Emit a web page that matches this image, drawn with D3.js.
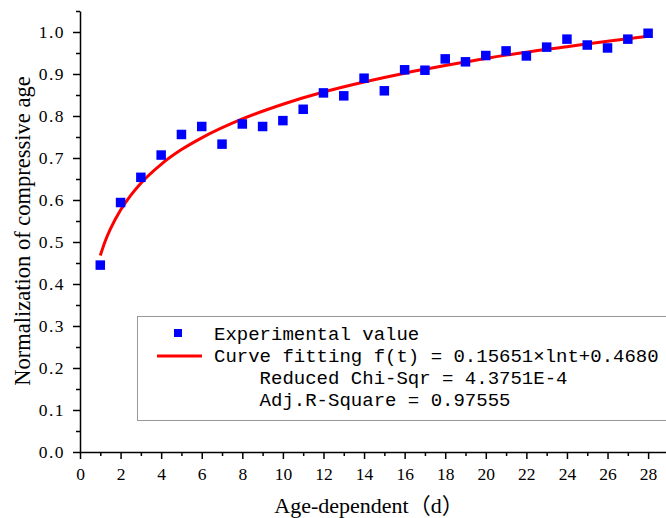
<!doctype html>
<html lang="en">
<head>
<meta charset="UTF-8">
<title>Compressive age fit</title>
<style type="text/css">
body {
  margin: 0;
  padding: 0;
  background: #fff;
}
</style>
<script type="text/javascript" src="https://cdn.jsdelivr.net/npm/d3@7/dist/d3.min.js"></script>
</head>
<body>
<div id="chart"></div>
<script type="text/javascript">

// measured points (age in days, normalized value)
var days = [1, 2, 3, 4, 5, 6, 7, 8, 9, 10, 11, 12, 13, 14, 15, 16, 17, 18, 19, 20, 21, 22, 23, 24, 25, 26, 27, 28];
var values = [0.445, 0.594, 0.654, 0.707, 0.756, 0.775, 0.733, 0.781, 0.775, 0.789, 0.816, 0.855, 0.848, 0.890,
              0.860, 0.910, 0.909, 0.936, 0.929, 0.944, 0.955, 0.943, 0.964, 0.983, 0.969, 0.962, 0.983, 0.997];

// fitted curve
var fitDays = [1, 1.25, 1.5, 2, 2.5, 3, 4, 5, 6, 8, 10, 12, 14, 16, 18, 20, 22, 24, 26, 28];
var fitValues = [0.468, 0.503, 0.531, 0.576, 0.611, 0.640, 0.685, 0.720, 0.748, 0.793, 0.828, 0.857, 0.881,
                 0.902, 0.920, 0.937, 0.952, 0.965, 0.978, 0.990];

var xTicks = [0, 2, 4, 6, 8, 10, 12, 14, 16, 18, 20, 22, 24, 26, 28];
var yTicks = [0, 0.1, 0.2, 0.3, 0.4, 0.5, 0.6, 0.7, 0.8, 0.9, 1.0];

var legendLines = [
  'Experimental value',
  'Curve fitting f(t) = 0.15651\u00d7lnt+0.4680',
  '    Reduced Chi-Sqr = 4.3751E-4',
  '    Adj.R-Square = 0.97555'
];

var W = 666, H = 518;
var serif = "'Liberation Serif', 'Times New Roman', 'Noto Sans CJK SC', serif";
var mono = "'Liberation Mono', 'Courier New', monospace";

var svg = d3.select('#chart').append('svg')
  .attr('width', W)
  .attr('height', H);

var x = d3.scaleLinear().domain([0, 29]).range([80, 668.4]);
var y = d3.scaleLinear().domain([0, 1.05]).range([452, 11]);

function range(a, b, step) {
  var out = [];
  for (var v = a; v <= b + 1e-9; v += step) out.push(+v.toFixed(3));
  return out;
}

// minor ticks first
svg.append('g')
  .attr('transform', 'translate(0,452)')
  .call(d3.axisBottom(x).tickValues(range(1, 29, 2)).tickSize(4).tickFormat(''))
  .call(function(g) { g.select('.domain').remove(); });

svg.append('g')
  .attr('transform', 'translate(80,0)')
  .call(d3.axisLeft(y).tickValues(range(0.05, 1.05, 0.1)).tickSize(4).tickFormat(''))
  .call(function(g) { g.select('.domain').remove(); });

var xAxis = svg.append('g')
  .attr('transform', 'translate(0,452)')
  .call(d3.axisBottom(x).tickValues(xTicks).tickSize(7).tickSizeOuter(0).tickPadding(9)
    .tickFormat(d3.format('d')));

var yAxis = svg.append('g')
  .attr('transform', 'translate(80,0)')
  .call(d3.axisLeft(y).tickValues(yTicks).tickSize(7).tickSizeOuter(0).tickPadding(8)
    .tickFormat(d3.format('.1f')));

[xAxis, yAxis].forEach(function(g) {
  g.selectAll('path, line').attr('stroke', '#000').attr('stroke-width', 1.5);
  g.selectAll('text').attr('fill', '#000')
    .style('font-family', serif)
    .style('font-size', '17.5px');
});
yAxis.selectAll('text').style('letter-spacing', '1.5px');
svg.selectAll('g line').attr('stroke', '#000').attr('stroke-width', 1.5);

// axis titles
svg.append('text')
  .attr('x', 369)
  .attr('y', 513)
  .attr('text-anchor', 'middle')
  .style('font-family', serif)
  .style('font-size', '22px')
  .text('Age-dependent\uff08d\uff09');

svg.append('text')
  .attr('transform', 'translate(30,231) rotate(-90)')
  .attr('text-anchor', 'middle')
  .style('font-family', serif)
  .style('font-size', '22.5px')
  .text('Normalization of compressive age');

// fitted curve
var line = d3.line()
  .x(function(d) { return x(d[0]); })
  .y(function(d) { return y(d[1]); })
  .curve(d3.curveMonotoneX);

svg.append('path')
  .datum(d3.zip(fitDays, fitValues))
  .attr('d', line)
  .attr('fill', 'none')
  .attr('stroke', '#ff0000')
  .attr('stroke-width', 3);

// points
var sq = 9.5;
svg.selectAll('rect.pt').data(d3.zip(days, values))
  .enter().append('rect')
  .attr('class', 'pt')
  .attr('x', function(d) { return x(d[0]) - sq / 2; })
  .attr('y', function(d) { return y(d[1]) - sq / 2; })
  .attr('width', sq)
  .attr('height', sq)
  .attr('fill', '#0000ff');

// legend
var lg = svg.append('g');
lg.append('rect')
  .attr('x', 137.5)
  .attr('y', 316.5)
  .attr('width', 560)
  .attr('height', 104)
  .attr('fill', '#fff')
  .attr('stroke', '#999')
  .attr('stroke-width', 1);

lg.append('rect')
  .attr('x', 174)
  .attr('y', 329)
  .attr('width', 8)
  .attr('height', 8)
  .attr('fill', '#0000ff');

lg.append('line')
  .attr('x1', 157).attr('x2', 202)
  .attr('y1', 356).attr('y2', 356)
  .attr('stroke', '#ff0000')
  .attr('stroke-width', 3);

lg.selectAll('text').data(legendLines)
  .enter().append('text')
  .attr('x', 214)
  .attr('y', function(d, i) { return 340 + i * 22; })
  .attr('xml:space', 'preserve')
  .style('white-space', 'pre')
  .style('font-family', mono)
  .style('font-size', '19px')
  .text(function(d) { return d; });

</script>
</body>
</html>
